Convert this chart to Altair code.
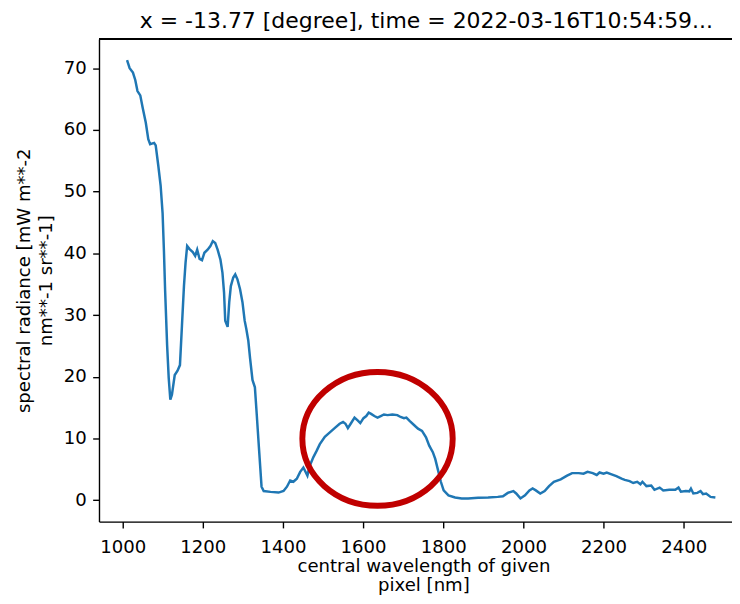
import altair as alt
import pandas as pd

# Spectrum
wavelength = [1011, 1017.5, 1025.7, 1031.5, 1037, 1044, 1050, 1057.7, 1064, 1068.6, 1078.5, 1082.5,
              1089, 1094.8, 1099.7, 1103, 1106, 1111, 1115, 1119, 1123, 1130, 1137, 1143, 1148,
              1153, 1157, 1161, 1167, 1175, 1181, 1186, 1192, 1198, 1204, 1212, 1219, 1225, 1231,
              1237, 1244, 1249, 1253, 1256, 1262, 1266, 1270, 1276, 1281, 1286.5, 1293, 1299,
              1304.5, 1308.5, 1313.5, 1318, 1324, 1330, 1334, 1340, 1346.6, 1352, 1369, 1389,
              1401.5, 1410, 1418, 1426, 1434.6, 1443, 1451, 1461, 1467, 1476, 1484, 1492, 1504.5,
              1517, 1529, 1541.5, 1550, 1556, 1562, 1569, 1578.6, 1587, 1593, 1601, 1608, 1614,
              1620, 1628, 1636, 1644, 1652, 1661, 1673, 1685.5, 1693.5, 1702, 1708, 1716, 1727,
              1737, 1747, 1757, 1765, 1774, 1780, 1788, 1794, 1801, 1813, 1829.5, 1846, 1862,
              1887, 1912, 1936, 1949, 1961, 1975, 1982, 1992.6, 2004, 2015, 2023, 2031, 2042,
              2053, 2064, 2076, 2093, 2109, 2121.5, 2138, 2150, 2160, 2173, 2183, 2190, 2200,
              2208, 2220, 2232, 2245, 2253, 2265, 2274, 2284, 2292, 2297, 2307, 2319, 2327, 2340,
              2349, 2364, 2379, 2387, 2393, 2405, 2414, 2418, 2424, 2434, 2442, 2448, 2456, 2467,
              2479]
radiance = [71.3, 70.0, 69.3, 68.1, 66.3, 65.6, 63.6, 61.2, 58.5, 57.7, 57.9, 57.5,
            54.2, 51.0, 46.5, 40.5, 34.0, 25.1, 19.8, 16.3, 17.1, 20.3, 21.0, 21.9, 28.3,
            34.7, 38.5, 41.2, 40.7, 40.2, 39.6, 40.6, 39.1, 38.9, 40.1, 40.6, 41.2, 42.0, 41.7,
            40.6, 39.0, 36.9, 33.7, 29.1, 28.1, 32.1, 34.7, 36.1, 36.6, 35.8, 34.2, 32.1,
            29.1, 27.8, 25.9, 23.0, 19.5, 18.3, 14.5, 8.6, 2.2, 1.5, 1.36, 1.25,
            1.5, 2.2, 3.2, 3.0, 3.5, 4.6, 5.3, 4.0, 5.6, 7.0, 8.0, 9.1, 10.3,
            11.0, 11.7, 12.4, 12.7, 12.4, 11.7, 12.4, 13.4, 12.9, 12.5, 13.3, 13.65, 14.2,
            14.0, 13.65, 13.4, 13.65, 13.9, 13.8, 13.9, 13.8, 13.5, 13.3, 13.4, 12.85, 12.2,
            11.6, 11.25, 10.2, 8.85, 7.8, 6.7, 4.6, 3.0, 1.6, 0.8, 0.45, 0.3, 0.3,
            0.4, 0.45, 0.55, 0.65, 1.2, 1.5, 1.1, 0.3, 0.8, 1.6, 1.9, 1.6, 1.1,
            1.5, 2.3, 3.0, 3.4, 4.0, 4.4, 4.4, 4.3, 4.6, 4.4, 4.1, 4.5, 4.3,
            4.5, 4.2, 3.9, 3.5, 3.3, 3.1, 2.8, 3.0, 2.6, 3.0, 2.3, 2.4, 1.7, 2.05,
            1.6, 1.7, 1.7, 2.05, 1.4, 1.5, 1.45, 1.9, 1.1, 1.2, 1.5, 1.0, 1.1, 0.55,
            0.45]

x_ticks = [1000, 1200, 1400, 1600, 1800, 2000, 2200, 2400]
y_ticks = [0, 10, 20, 30, 40, 50, 60, 70]

# annotation ellipse centre (data coords)
mark_x = [1636]
mark_y = [9.95]

title_text = "x = -13.77 [degree], time = 2022-03-16T10:54:59..."
x_title = ["central wavelength of given", "pixel [nm]"]
y_title = ["spectral radiance [mW m**-2", "nm**-1 sr**-1]"]

FONT = "DejaVu Sans"
FS = 18.3
W, H = 640, 488

df = pd.DataFrame({"wavelength": wavelength, "radiance": radiance})
dm = pd.DataFrame({"wavelength": mark_x, "radiance": mark_y})

xscale = alt.Scale(domain=[941, 2520.5], nice=False, zero=False)
yscale = alt.Scale(domain=[-3.45, 74.75], nice=False, zero=False)

common = dict(grid=False, labelFont=FONT, labelFontSize=FS, labelColor="black", titleFont=FONT,
              titleFontSize=FS, titleFontWeight="normal", titleColor="black", tickColor="black",
              domainColor="black", tickSize=6.4, tickWidth=1.4, domainWidth=1.4, format="d")

xaxis = alt.Axis(values=x_ticks, title=x_title, labelPadding=10.5, titleX=328, titleY=36.5,
                 titleBaseline="top", labelFlush=False, titleLineHeight=19.5, **common)
yaxis = alt.Axis(values=y_ticks, title=y_title, labelPadding=6.4, titleX=-75, titleY=H / 2,
                 titleBaseline="middle", titleAngle=270, titleAlign="center",
                 titleLineHeight=22, **common)

line = alt.Chart(df).mark_line(color="#1f77b4", strokeWidth=2.5).encode(
    x=alt.X("wavelength:Q", scale=xscale, axis=xaxis),
    y=alt.Y("radiance:Q", scale=yscale, axis=yaxis),
)

top_border = alt.Chart(df).mark_rule(color="black", strokeWidth=1.4).encode(
    x=alt.value(0), x2=alt.value(W + 2), y=alt.value(0)
)

ellipse_path = "M -1 0 A 1 0.89 0 1 1 1 0 A 1 0.89 0 1 1 -1 0 Z"
ellipse = alt.Chart(dm).mark_point(shape=ellipse_path, filled=False, stroke="#c00000",
                                    strokeWidth=6, opacity=1, size=152 * 152).encode(
    x=alt.X("wavelength:Q", scale=xscale),
    y=alt.Y("radiance:Q", scale=yscale),
)

chart = alt.layer(line, top_border, ellipse).properties(
    width=W, height=H,
    title=alt.TitleParams(title_text, font=FONT, fontSize=22.2, fontWeight="normal", color="black",
                          anchor="middle", frame="group", dx=11, offset=6),
    autosize=alt.AutoSizeParams(type="none"),
    padding={"left": 92, "top": 28, "right": 0, "bottom": 72},
).configure_view(stroke=None).configure(background="white")

chart.save("out.html", embed_options={"renderer": "svg", "actions": False})
